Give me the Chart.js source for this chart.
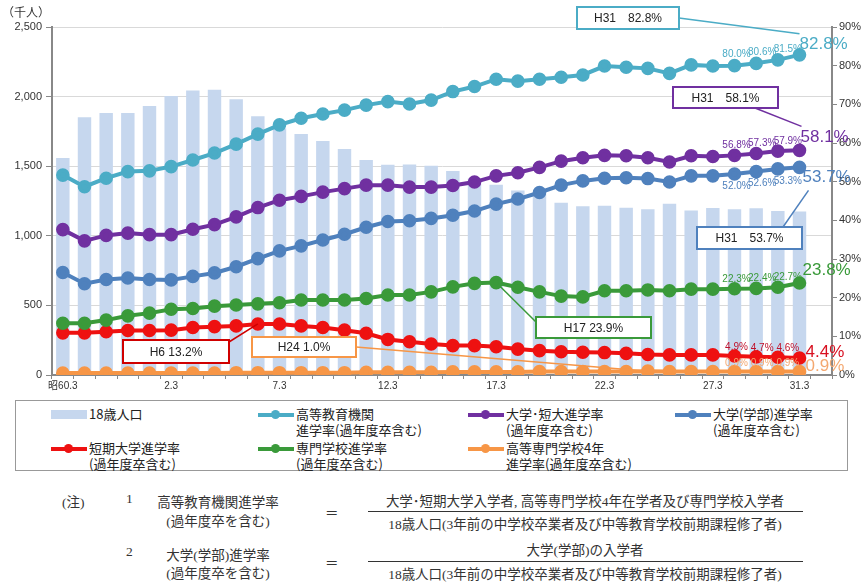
<!DOCTYPE html>
<html lang="ja">
<head>
<meta charset="utf-8">
<script src="https://cdn.jsdelivr.net/npm/chart.js@4"></script>
<style>
  body { margin: 0; background: #fff; }
  #wrap { position: relative; width: 861px; height: 587px; font-family: "Noto Sans CJK JP", sans-serif; color: #222; }
  #chart { position: absolute; left: 0; top: 0; }
  #legend { position: absolute; left: 15px; top: 400px; width: 831px; height: 69px; border: 1px solid #999; }
  .item { position: absolute; font-size: 13px; line-height: 16px; }
  .icon { position: absolute; left: 0; top: 4px; width: 36px; height: 9px; }
  .icon .ln { position: absolute; left: 0; top: 3px; width: 36px; height: 4px; }
  .icon .dot { position: absolute; left: 13px; top: 0; width: 9px; height: 9px; border-radius: 50%; }
  .item .txt { margin-left: 38px; white-space: nowrap; }
  .note { position: absolute; font-size: 13.5px; color: #333; white-space: nowrap; font-family: "Liberation Serif", "Noto Sans CJK JP", serif; }
  .c { transform: translateX(-50%); }
  .frac { position: absolute; height: 0; border-top: 1.5px solid #333; }
</style>
</head>
<body>
<div id="wrap">
  <canvas id="chart" width="861" height="398"></canvas>
  <div id="legend"></div>

  <div class="note" style="left:62px;top:491px">(注)</div>
  <div class="note" style="left:126px;top:491px">1</div>
  <div class="note c" style="left:218px;top:491px">高等教育機関進学率</div>
  <div class="note c" style="left:218px;top:510px">(過年度卒を含む)</div>
  <div class="note" style="left:325px;top:502px">＝</div>
  <div class="note c" style="left:585px;top:490px">大学･短期大学入学者, 高等専門学校4年在学者及び専門学校入学者</div>
  <div class="frac" style="left:368px;top:511px;width:435px"></div>
  <div class="note c" style="left:585px;top:513px">18歳人口(3年前の中学校卒業者及び中等教育学校前期課程修了者)</div>

  <div class="note" style="left:126px;top:544px">2</div>
  <div class="note c" style="left:218px;top:544px">大学(学部)進学率</div>
  <div class="note c" style="left:218px;top:562px">(過年度卒を含む)</div>
  <div class="note" style="left:325px;top:552px">＝</div>
  <div class="note c" style="left:585px;top:539px">大学(学部)の入学者</div>
  <div class="frac" style="left:368px;top:561px;width:435px"></div>
  <div class="note c" style="left:585px;top:563px">18歳人口(3年前の中学校卒業者及び中等教育学校前期課程修了者)</div>
</div>

<script>
// years (March of each year), last slot is left empty
const years = [
  "昭60.3", "61.3", "62.3", "63.3", "元.3", "2.3", "3.3", "4.3", "5.3", "6.3",
  "7.3", "8.3", "9.3", "10.3", "11.3", "12.3", "13.3", "14.3", "15.3", "16.3",
  "17.3", "18.3", "19.3", "20.3", "21.3", "22.3", "23.3", "24.3", "25.3", "26.3",
  "27.3", "28.3", "29.3", "30.3", "31.3", ""
];
const shownTicks = ["昭60.3", "2.3", "7.3", "12.3", "17.3", "22.3", "27.3", "31.3"];

// 18歳人口 (千人)
const population = [1559, 1851, 1883, 1882, 1933, 2005, 2044, 2049, 1981, 1859,
  1773, 1732, 1681, 1623, 1545, 1510, 1512, 1503, 1465, 1411,
  1366, 1326, 1300, 1237, 1212, 1215, 1202, 1191, 1231, 1181,
  1199, 1190, 1198, 1178, 1175];

// rates (%)
const higherEdRate = [51.7, 48.7, 50.9, 52.6, 52.8, 53.9, 55.6, 57.4, 59.7, 62.3,
  64.7, 66.4, 67.5, 68.5, 69.8, 70.7, 70.1, 71.1, 73.3, 74.6,
  76.5, 76.0, 76.5, 77.0, 77.6, 79.9, 79.6, 79.3, 78.0, 80.2,
  79.9, 80.0, 80.6, 81.5, 82.8];
const univJuniorRate = [37.6, 34.7, 36.1, 36.7, 36.3, 36.3, 37.7, 38.9, 40.9, 43.3,
  45.2, 46.2, 47.3, 48.2, 49.1, 49.1, 48.6, 48.6, 49.0, 49.9,
  51.5, 52.3, 53.7, 55.3, 56.2, 56.8, 56.7, 56.2, 55.1, 56.7,
  56.5, 56.8, 57.3, 57.9, 58.1];
const univRate = [26.5, 23.6, 24.7, 25.1, 24.7, 24.6, 25.5, 26.4, 28.0, 30.1,
  32.1, 33.4, 34.9, 36.4, 38.2, 39.7, 39.9, 40.5, 41.3, 42.4,
  44.2, 45.5, 47.2, 49.1, 50.2, 50.9, 51.0, 50.8, 49.9, 51.5,
  51.5, 52.0, 52.6, 53.3, 53.7];
const juniorCollegeRate = [10.9, 10.9, 11.2, 11.5, 11.5, 11.6, 12.3, 12.5, 12.7, 13.2,
  13.2, 12.7, 12.3, 11.6, 10.8, 9.2, 8.6, 8.0, 7.6, 7.6,
  7.3, 6.7, 6.3, 6.0, 5.9, 5.8, 5.6, 5.3, 5.2, 5.2,
  5.2, 4.9, 4.7, 4.6, 4.4];
const vocationalRate = [13.4, 13.4, 14.2, 15.3, 16.0, 17.0, 17.2, 17.8, 18.1, 18.4,
  18.7, 19.4, 19.4, 19.4, 19.8, 20.7, 20.7, 21.5, 22.8, 23.7,
  23.9, 22.7, 21.5, 20.4, 20.2, 21.8, 21.8, 22.0, 21.8, 22.2,
  22.2, 22.3, 22.4, 22.7, 23.8];
const kosenRate = [0.5, 0.5, 0.5, 0.5, 0.5, 0.5, 0.5, 0.5, 0.6, 0.6,
  0.6, 0.6, 0.6, 0.6, 0.7, 0.7, 0.7, 0.7, 0.8, 0.8,
  0.8, 0.8, 0.9, 0.9, 0.9, 0.9, 0.9, 1.0, 0.9, 0.9,
  0.9, 0.9, 0.9, 0.9, 0.9];

const COLORS = {
  bar: "#c6d7ee",
  teal: "#4bacc6",
  purple: "#7030a0",
  blue: "#4f81bd",
  red: "#ee1111",
  green: "#3a9a3a",
  orange: "#f79646"
};

const lineSeries = [
  { label: "高等教育機関進学率", data: higherEdRate, color: COLORS.teal },
  { label: "大学・短大進学率", data: univJuniorRate, color: COLORS.purple },
  { label: "大学(学部)進学率", data: univRate, color: COLORS.blue },
  { label: "専門学校進学率", data: vocationalRate, color: COLORS.green },
  { label: "短期大学進学率", data: juniorCollegeRate, color: COLORS.red },
  { label: "高等専門学校4年進学率", data: kosenRate, color: COLORS.orange }
];

// Legend (HTML, two rows)
const legendItems = [
  { type: "bar", color: COLORS.bar, text: "18歳人口", x: 35, y: 5 },
  { type: "line", color: COLORS.teal, text: "高等教育機関<br>進学率(過年度卒含む)", x: 242, y: 5 },
  { type: "line", color: COLORS.purple, text: "大学･短大進学率<br>(過年度卒含む)", x: 452, y: 5 },
  { type: "line", color: COLORS.blue, text: "大学(学部)進学率<br>(過年度卒含む)", x: 659, y: 5 },
  { type: "line", color: COLORS.red, text: "短期大学進学率<br>(過年度卒含む)", x: 35, y: 39 },
  { type: "line", color: COLORS.green, text: "専門学校進学率<br>(過年度卒含む)", x: 242, y: 39 },
  { type: "line", color: COLORS.orange, text: "高等専門学校4年<br>進学率(過年度卒含む)", x: 452, y: 39 }
];
const legendBox = document.getElementById("legend");
legendItems.forEach(it => {
  const div = document.createElement("div");
  div.className = "item";
  div.style.left = it.x + "px";
  div.style.top = it.y + "px";
  const icon = it.type === "bar"
    ? `<div class="icon" style="background:${it.color}"></div>`
    : `<div class="icon"><div class="ln" style="background:${it.color}"></div><div class="dot" style="background:${it.color}"></div></div>`;
  div.innerHTML = icon + `<div class="txt">${it.text}</div>`;
  legendBox.appendChild(div);
});

// callout boxes: dataset index, point index, box (x, y, w, h), where the leader starts, offset of its end from the point
const callouts = [
  { text: "H31　82.8%", ds: 1, idx: 34, box: [577, 7, 102, 22], start: "right", end: [0, -21], color: COLORS.teal },
  { text: "H31　58.1%", ds: 2, idx: 34, box: [673, 87, 105, 21], start: [755, 108], end: [2, -24], color: COLORS.purple },
  { text: "H31　53.7%", ds: 3, idx: 34, box: [697, 227, 105, 22], start: [783, 227], end: [9, 23], color: COLORS.blue },
  { text: "H17 23.9%", ds: 4, idx: 20, box: [536, 317, 115, 21], start: [536, 322], end: [0, 0], color: COLORS.green },
  { text: "H6 13.2%", ds: 5, idx: 9, box: [123, 340, 106, 23], start: [229, 342], end: [0, 0], color: "#d00000" },
  { text: "H24 1.0%", ds: 6, idx: 27, box: [252, 337, 104, 20], start: "right", end: [0, 0], color: COLORS.orange }
];

// value labels at the end of each line: small dy, big dx / dy, colour
const endLabels = [
  { ds: 1, small: -11, bigDx: 0, big: -11, color: COLORS.teal },
  { ds: 2, small: -10, bigDx: 1, big: -13, color: COLORS.purple },
  { ds: 3, small: 12, bigDx: 3, big: 10, color: COLORS.blue },
  { ds: 4, small: -10, bigDx: 3, big: -13, color: COLORS.green },
  { ds: 5, small: -9, bigDx: 6, big: -6, color: "#d81020", smallColor: "#c0102a" },
  { ds: 6, small: -8, bigDx: 6, big: -5, color: "#f4a870" }
];

const overlayPlugin = {
  id: "overlay",
  afterDatasetsDraw(chart) {
    const ctx = chart.ctx;
    ctx.save();

    // unit label
    ctx.fillStyle = "#333";
    ctx.font = "12px 'Noto Sans CJK JP'";
    ctx.textAlign = "left";
    ctx.textBaseline = "middle";
    ctx.fillText("（千人）", 2, 12);

    // end labels
    endLabels.forEach(l => {
      const pts = chart.getDatasetMeta(l.ds).data;
      const vals = chart.data.datasets[l.ds].data;
      ctx.textBaseline = "middle";
      ctx.font = "10px 'Liberation Sans'";
      ctx.fillStyle = l.smallColor || l.color;
      ctx.textAlign = "center";
      [31, 32, 33].forEach((i, k) => {
        ctx.fillText(vals[i].toFixed(1) + "%", pts[i].x + 2 + k * 4, pts[i].y + l.small);
      });
      ctx.font = "17px 'Liberation Sans'";
      ctx.fillStyle = l.color;
      ctx.textAlign = "left";
      const p = pts[34];
      ctx.fillText(vals[34].toFixed(1) + "%", p.x + l.bigDx, p.y + l.big);
    });

    // callouts
    callouts.forEach(c => {
      const p = chart.getDatasetMeta(c.ds).data[c.idx];
      const [bx, by, bw, bh] = c.box;
      const sx = c.start === "right" ? bx + bw : c.start[0];
      const sy = c.start === "right" ? by + bh / 2 : c.start[1];
      ctx.strokeStyle = c.color;
      ctx.lineWidth = 1.5;
      ctx.beginPath();
      ctx.moveTo(sx, sy);
      ctx.lineTo(p.x + c.end[0], p.y + c.end[1]);
      ctx.stroke();
      ctx.fillStyle = "#fff";
      ctx.fillRect(bx, by, bw, bh);
      ctx.lineWidth = 2;
      ctx.strokeRect(bx, by, bw, bh);
      ctx.fillStyle = "#222";
      ctx.font = "12px 'Liberation Sans', 'Noto Sans CJK JP'";
      ctx.textAlign = "center";
      ctx.textBaseline = "middle";
      ctx.fillText(c.text, bx + bw / 2, by + bh / 2 + 1);
    });
    ctx.restore();
  }
};

const datasets = [{
  type: "bar",
  label: "18歳人口",
  data: population,
  backgroundColor: COLORS.bar,
  yAxisID: "y",
  barPercentage: 0.62,
  categoryPercentage: 1,
  order: 10
}];
lineSeries.forEach((s, i) => {
  datasets.push({
    type: "line",
    label: s.label,
    data: s.data,
    borderColor: s.color,
    backgroundColor: s.color,
    pointBackgroundColor: s.color,
    pointBorderColor: s.color,
    borderWidth: 4,
    pointRadius: 4.8,
    tension: 0,
    yAxisID: "y1",
    order: 1 + i
  });
});

new Chart(document.getElementById("chart"), {
  data: { labels: years, datasets: datasets },
  options: {
    responsive: false,
    animation: false,
    layout: { padding: { top: 27, left: 0, right: 0, bottom: 0 } },
    plugins: { legend: { display: false }, tooltip: { enabled: false } },
    scales: {
      x: {
        offset: true,
        grid: { display: true, drawOnChartArea: false, offset: true, tickLength: 4, tickColor: "#888" },
        border: { color: "#888", width: 2 },
        ticks: {
          autoSkip: false,
          maxRotation: 0,
          padding: 1,
          color: "#333",
          font: { size: 10, family: "'Liberation Sans', 'Noto Sans CJK JP'" },
          callback: function (v) {
            const lab = this.getLabelForValue(v);
            return shownTicks.includes(lab) ? lab : "";
          }
        },
        afterFit: s => { s.height = 23; }
      },
      y: {
        position: "left",
        min: 0,
        max: 2500,
        grid: { color: "#d9d9d9", tickColor: "#888", tickLength: 6 },
        border: { color: "#888", width: 2 },
        ticks: {
          stepSize: 500,
          padding: 4,
          color: "#333",
          font: { size: 11, family: "'Liberation Sans'" },
          callback: v => v.toLocaleString("en-US")
        },
        afterFit: s => { s.width = 52; }
      },
      y1: {
        position: "right",
        min: 0,
        max: 90,
        grid: { drawOnChartArea: false, tickColor: "#888", tickLength: 5 },
        border: { color: "#888", width: 2 },
        ticks: {
          stepSize: 10,
          padding: 2,
          color: "#333",
          font: { size: 11, family: "'Liberation Sans'" },
          callback: v => v + "%"
        },
        afterFit: s => { s.width = 29; }
      }
    }
  },
  plugins: [overlayPlugin]
});
</script>
</body>
</html>
